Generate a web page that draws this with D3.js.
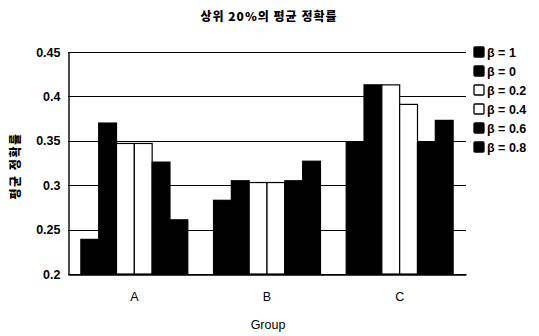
<!DOCTYPE html>
<html>
<head>
<meta charset="utf-8">
<script src="https://cdn.jsdelivr.net/npm/d3@7"></script>
<style>
  body { margin: 0; background: #fff; }
  svg { display: block; font-family: Arial, "Liberation Sans", "Noto Sans CJK KR", sans-serif; }
</style>
</head>
<body>
<svg id="chart" width="539" height="336"></svg>
<script>
// Average precision of the top 20% per group, for each β setting
const groups = ["A", "B", "C"];
const seriesNames = ["β = 1", "β = 0", "β = 0.2", "β = 0.4", "β = 0.6", "β = 0.8"];
const seriesFill = ["#000", "#000", "#fff", "#fff", "#000", "#000"];
const valuesA = [0.239, 0.370, 0.347, 0.347, 0.326, 0.261];
const valuesB = [0.283, 0.305, 0.303, 0.303, 0.305, 0.327];
const valuesC = [0.348, 0.413, 0.413, 0.391, 0.348, 0.373];
const yTicks = [0.2, 0.25, 0.3, 0.35, 0.4, 0.45];
const yTickLabels = ["0.2", "0.25", "0.3", "0.35", "0.4", "0.45"];

const table = [valuesA, valuesB, valuesC];

const svg = d3.select("#chart");
const margin = { left: 68, right: 73, top: 52, bottom: 62 };
const W = 539, H = 336;
const x0 = d3.scaleBand().domain(groups).range([margin.left, W - margin.right]).paddingInner(0.194).paddingOuter(0.097);
const x1 = d3.scaleBand().domain(d3.range(seriesNames.length)).range([0, x0.bandwidth()]);
const y = d3.scaleLinear().domain([0.2, 0.45]).range([H - margin.bottom, margin.top]);

// gridlines
svg.append("g").selectAll("line").data(yTicks).join("line")
  .attr("x1", margin.left).attr("x2", W - margin.right)
  .attr("y1", d => Math.round(y(d)) + 0.5).attr("y2", d => Math.round(y(d)) + 0.5)
  .attr("stroke", "#000").attr("stroke-width", 1.2);

// bars
const g = svg.append("g").selectAll("g").data(table).join("g")
  .attr("transform", (d, i) => `translate(${x0(groups[i])},0)`);
g.selectAll("rect").data(d => d).join("rect")
  .attr("x", (d, i) => x1(i))
  .attr("width", x1.bandwidth())
  .attr("y", d => y(d))
  .attr("height", d => y(0.2) - y(d))
  .attr("fill", (d, i) => seriesFill[i])
  .attr("stroke", "#000").attr("stroke-width", 1.2);

// y axis
const yAxis = d3.axisLeft(y).tickValues(yTicks).tickFormat((d, i) => yTickLabels[i]).tickSize(0).tickPadding(8);
const ya = svg.append("g").attr("transform", `translate(${margin.left + 0.5},0)`).call(yAxis);
ya.select(".domain").attr("stroke", "#000").attr("stroke-width", 1.4);
ya.selectAll("text").attr("font-size", 12.5).attr("font-weight", "bold").attr("fill", "#000");

// x axis
const xAxis = d3.axisBottom(x0).tickSize(0).tickPadding(18);
const xa = svg.append("g").attr("transform", `translate(0,${Math.round(y(0.2)) + 0.5})`).call(xAxis);
xa.select(".domain").attr("stroke", "#000").attr("stroke-width", 1.4);
xa.selectAll("text").attr("font-size", 12.5).attr("fill", "#000");

// title and axis titles
svg.append("text").attr("x", 269).attr("y", 21).attr("text-anchor", "middle")
  .attr("font-size", 12).attr("font-weight", 900).attr("letter-spacing", 1)
  .attr("font-family", "'Noto Sans CJK KR', sans-serif")
  .text("상위 20%의 평균 정확률");
svg.append("text").attr("x", 268).attr("y", 329).attr("text-anchor", "middle")
  .attr("font-size", 12.5).text("Group");
svg.append("text").attr("transform", "translate(20,166) rotate(-90)").attr("text-anchor", "middle")
  .attr("font-size", 12).attr("font-weight", 900).attr("letter-spacing", 1.5)
  .attr("font-family", "'Noto Sans CJK KR', sans-serif")
  .text("평균 정확률");

// legend
const lg = svg.append("g").selectAll("g").data(seriesNames).join("g")
  .attr("transform", (d, i) => `translate(474,${47 + i * 19})`);
lg.append("rect").attr("width", 10).attr("height", 10).attr("rx", 1)
  .attr("fill", (d, i) => seriesFill[i]).attr("stroke", "#000").attr("stroke-width", 1.3);
lg.append("text").attr("x", 13).attr("y", 10).attr("font-size", 12.5).attr("font-weight", "bold").text(d => d);
</script>
</body>
</html>
